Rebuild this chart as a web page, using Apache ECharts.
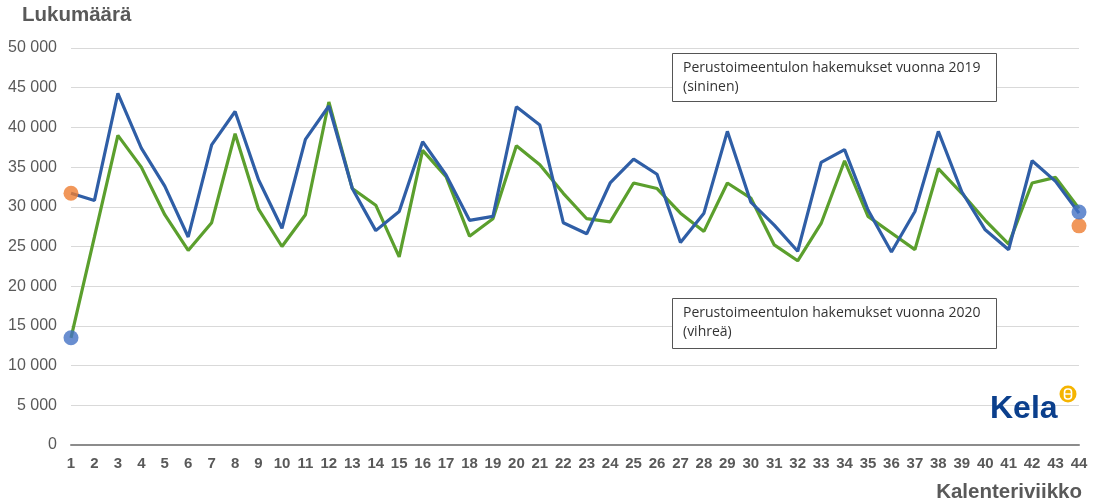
<!DOCTYPE html>
<html>
<head>
<meta charset="utf-8">
<script src="https://cdn.jsdelivr.net/npm/echarts@6/dist/echarts.min.js"></script>
<style>
html,body{margin:0;padding:0;background:#fff;}
#c{width:1101px;height:504px;}
</style>
</head>
<body>
<div id="c"></div>
<script>
const weeks = ["1","2","3","4","5","6","7","8","9","10","11","12","13","14","15","16","17","18","19","20","21","22","23","24","25","26","27","28","29","30","31","32","33","34","35","36","37","38","39","40","41","42","43","44"];
const y2019 = [31700,30800,44300,37400,32600,26200,37800,42000,33400,27300,38500,42700,32300,27000,29400,38200,34000,28300,28800,42600,40300,28000,26600,33000,36000,34100,25500,29200,39500,30600,27700,24400,35600,37200,29600,24300,29400,39500,31900,27100,24600,35800,33200,29200];
const y2020 = [13500,26200,39000,35000,29000,24500,28000,39200,29700,25000,29000,43200,32300,30200,23700,37100,33800,26300,28500,37700,35300,31700,28500,28100,33000,32300,29200,26900,33000,31100,25200,23200,27900,35800,28800,26700,24600,34800,31700,28300,25300,33000,33700,29800];
const orangeDots = [[0,31700],[43,27600]];
const blueDots = [[0,13500],[43,29350]];
const yTicks = {min:0, max:50000, step:5000};
const labelTop = "Lukumäärä";
const labelBottom = "Kalenteriviikko";
const note2019 = ["Perustoimeentulon hakemukset vuonna 2019","(sininen)"];
const note2020 = ["Perustoimeentulon hakemukset vuonna 2020","(vihreä)"];

const chart = echarts.init(document.getElementById('c'));
const fmt = v => String(v).replace(/\B(?=(\d{3})+(?!\d))/g, ' ');
chart.setOption({
  animation:false,
  backgroundColor:'#fff',
  grid:{left:71,right:22,top:48,bottom:59,containLabel:false},
  xAxis:{type:'category',data:weeks,boundaryGap:false,
    axisLine:{lineStyle:{color:'#8c8c8c',width:2}},
    axisTick:{show:false},
    axisLabel:{color:'#595959',fontSize:15,fontWeight:'bold',fontFamily:'Liberation Sans, Arial',margin:11,interval:0},
    splitLine:{show:false}},
  yAxis:{type:'value',min:yTicks.min,max:yTicks.max,interval:yTicks.step,
    axisLine:{show:false},axisTick:{show:false},
    axisLabel:{color:'#595959',fontSize:16,fontFamily:'Liberation Sans, Arial',margin:14,formatter:fmt},
    splitLine:{lineStyle:{color:'#d9d9d9',width:1}}},
  series:[
    {type:'line',data:y2020,symbol:'none',lineStyle:{color:'#5b9f2d',width:3.2},z:2},
    {type:'line',data:y2019,symbol:'none',lineStyle:{color:'#2f5ea6',width:3.2},z:3},
    {type:'scatter',data:orangeDots,symbolSize:15,itemStyle:{color:'#ed7d31'},z:5},
    {type:'scatter',data:blueDots,symbolSize:15,itemStyle:{color:'#4472c4'},z:6}
  ],
  graphic:[
    {type:'text',left:22,top:5,style:{text:labelTop,fill:'#595959',font:'bold 20.5px "Liberation Sans", Arial'}},
    {type:'text',right:19,top:482,style:{text:labelBottom,fill:'#595959',font:'bold 20.5px "Liberation Sans", Arial'}},
    {type:'rect',shape:{x:672.5,y:53.5,width:324,height:48},style:{fill:'#fff',stroke:'#555',lineWidth:1},z:10},
    {type:'text',x:683,y:59,z:11,style:{text:note2019.join('\n'),fill:'#333',font:'14px "Open Sans"',lineHeight:19}},
    {type:'rect',shape:{x:672.5,y:298.5,width:324,height:50},style:{fill:'#fff',stroke:'#555',lineWidth:1},z:10},
    {type:'text',x:683,y:304,z:11,style:{text:note2020.join('\n'),fill:'#333',font:'14px "Open Sans"',lineHeight:19}},
    {type:'text',x:990,y:393,z:11,style:{text:'Kela',fill:'#0b3f8c',font:'bold 32px "Liberation Sans Narrow", "Liberation Sans", Arial'}},
    {type:'circle',shape:{cx:1068,cy:394,r:8.5},style:{fill:'#f5b400'},z:11},
    {type:'rect',shape:{x:1064.5,y:389,width:7,height:10,r:3},style:{fill:'none',stroke:'#fff',lineWidth:1.6},z:12},
    {type:'line',shape:{x1:1064.5,y1:394,x2:1071.5,y2:394},style:{stroke:'#fff',lineWidth:1.4},z:12}
  ]
});
</script>
</body>
</html>
